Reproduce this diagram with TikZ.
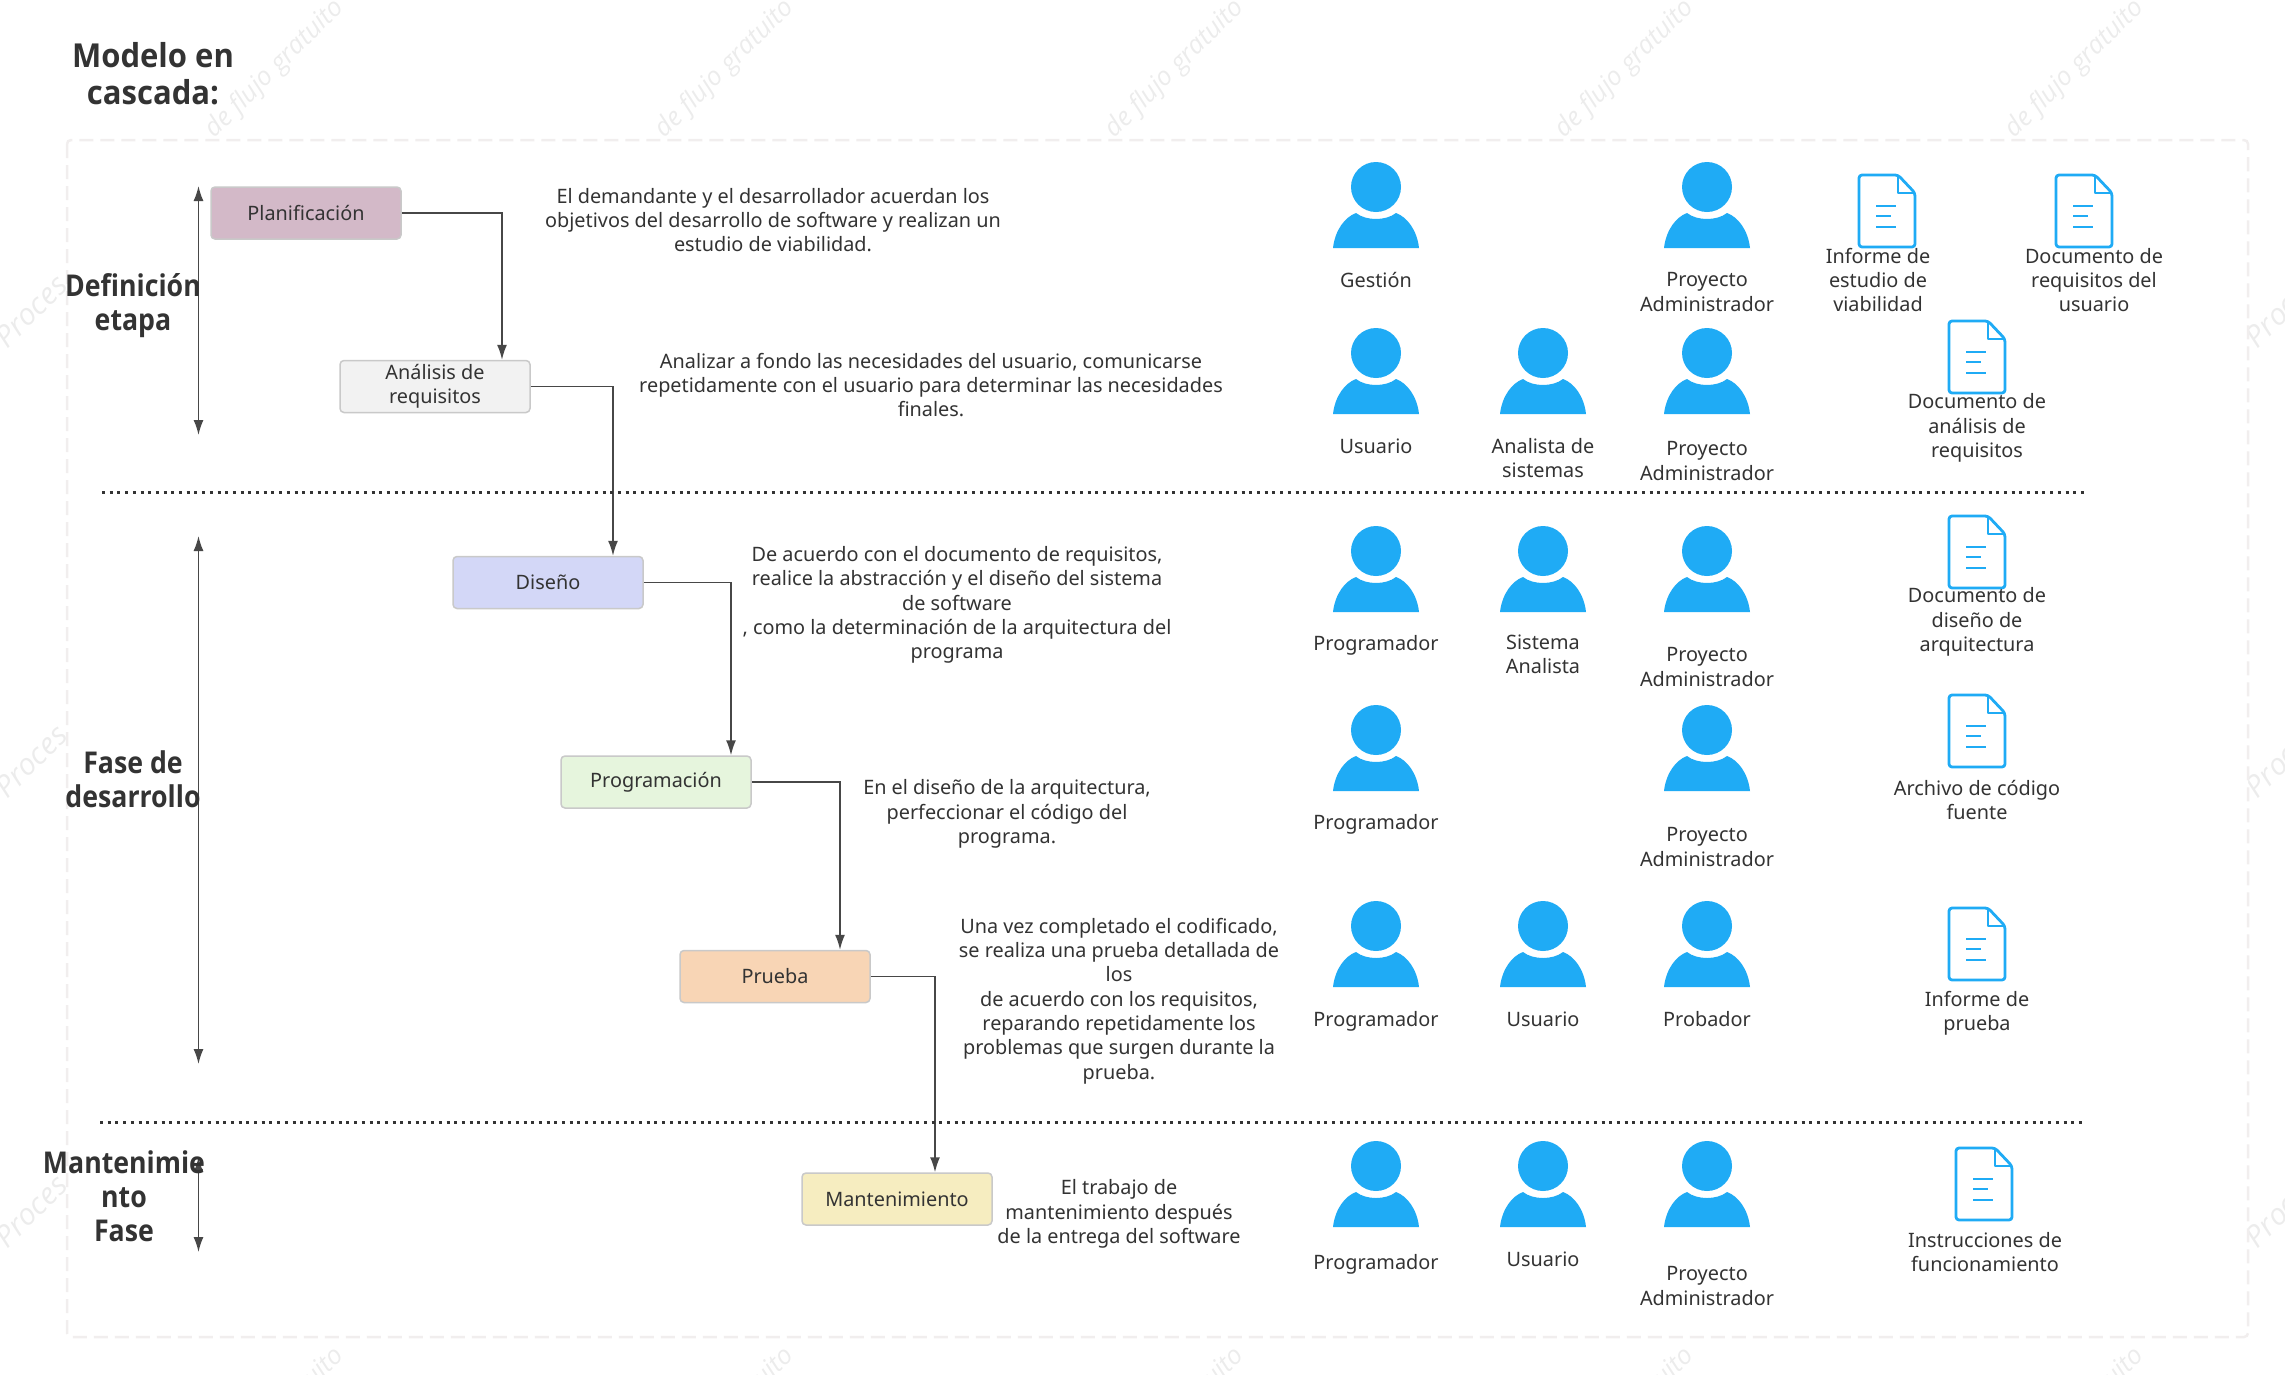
\documentclass[tikz,border=0pt]{standalone}
\usepackage{fontspec}
\setmainfont{Noto Sans}
\newfontfamily\headfont[FakeStretch=0.89]{Open Sans}
\newfontfamily\titlefont[FakeStretch=0.94]{Open Sans}
\newfontfamily\wmfont{Open Sans}
\usetikzlibrary{positioning}
\usetikzlibrary{arrows.meta}
\definecolor{wmgray}{HTML}{ECECEC}
\definecolor{framegray}{HTML}{F1EEEE}
\definecolor{ink}{HTML}{333333}
\definecolor{iconblue}{HTML}{1FABF5}
\definecolor{edgegray}{HTML}{C9C9C9}
\tikzset{
  stagebox/.style={draw=edgegray, line width=1.5pt, rounded corners=4pt, minimum width=190pt, minimum height=52pt, inner sep=0pt, align=center, text=ink, font=\fontsize{19.85}{24.3}\selectfont},
  txt/.style={align=center, inner sep=0pt, text=ink, font=\fontsize{19.85}{24.3}\selectfont},
  head/.style={align=center, inner sep=0pt, text=ink, font=\headfont\bfseries\fontsize{30}{34}\selectfont},
  wm/.style={rotate=45, inner sep=0pt, text=wmgray, font=\wmfont\itshape\fontsize{26}{30}\selectfont},
  conn/.style={-{Latex[length=15pt,width=10pt]}, line width=1.5pt, draw=ink!90},
  sep/.style={line width=3pt, draw=ink, dash pattern=on 3pt off 4.7pt},
  person/.pic={
    \fill[iconblue] (0,0) circle (25);
    \fill[iconblue] (-43,61) .. controls (-41,43) and (-31,30) .. (-20,26)
      .. controls (-10,34) and (10,34) .. (20,26)
      .. controls (31,30) and (41,43) .. (43,61) -- cycle;
  },
  doc/.pic={
    \draw[iconblue, line width=2.8pt, line join=round, rounded corners=3pt] (0,0) -- (39,0) -- (56,18) -- (56,72) -- (0,72) -- cycle;
    \draw[iconblue, line width=2.8pt, line join=round] (39,0) -- (39,18) -- (56,18);
    \draw[iconblue, line width=2.8pt] (17,31) -- (37,31);
    \draw[iconblue, line width=2.8pt] (17,41) -- (32,41);
    \draw[iconblue, line width=2.8pt] (17,52) -- (37,52);
  }
}
\begin{document}
\begin{tikzpicture}[x=1pt,y=-1pt]
\useasboundingbox (0,0) rectangle (2285,1374);
% watermark
\begin{scope}
\clip (0,0) rectangle (2285,1374);
\node[wm] (wma) at (275,69) {de flujo gratuito};
\node[wm] (wmb) at (725,69) {de flujo gratuito};
\node[wm] (wmc) at (1175,69) {de flujo gratuito};
\node[wm] (wmd) at (1625,69) {de flujo gratuito};
\node[wm] (wme) at (2075,69) {de flujo gratuito};
\node[wm] (wmf) at (275,1417) {de flujo gratuito};
\node[wm] (wmg) at (725,1417) {de flujo gratuito};
\node[wm] (wmh) at (1175,1417) {de flujo gratuito};
\node[wm] (wmi) at (1625,1417) {de flujo gratuito};
\node[wm] (wmj) at (2075,1417) {de flujo gratuito};
\node[wm, font=\wmfont\itshape\fontsize{30}{30}\selectfont, anchor=west] (wmk) at (0,342) {Proces};
\node[wm, font=\wmfont\itshape\fontsize{30}{30}\selectfont, anchor=west] (wml) at (0,792) {Proces};
\node[wm, font=\wmfont\itshape\fontsize{30}{30}\selectfont, anchor=west] (wmm) at (0,1242) {Proces};
\node[wm, font=\wmfont\itshape\fontsize{30}{30}\selectfont, anchor=west] (wmn) at (2250,342) {Proces};
\node[wm, font=\wmfont\itshape\fontsize{30}{30}\selectfont, anchor=west] (wmo) at (2250,792) {Proces};
\node[wm, font=\wmfont\itshape\fontsize{30}{30}\selectfont, anchor=west] (wmp) at (2250,1242) {Proces};
\end{scope}
% frame
\draw[framegray, fill=white, line width=2.5pt, dash pattern=on 14pt off 7pt, rounded corners=4pt] (67,140) rectangle (2248,1337);
% stages
\node[stagebox, fill={rgb,255:red,211;green,185;blue,200}] (plan) at (306,213) {Planificación};
\node[
  stagebox,
  fill={rgb,255:red,242;green,242;blue,242},
  below=120pt of plan.south west,
  anchor=north west,
  xshift=129pt] (ana) {Análisis de\\requisitos};
\node[
  stagebox,
  fill={rgb,255:red,211;green,215;blue,247},
  below=142.5pt of ana.south west,
  anchor=north west,
  xshift=113pt] (dis) {Diseño};
\node[
  stagebox,
  fill={rgb,255:red,230;green,245;blue,221},
  below=146pt of dis.south west,
  anchor=north west,
  xshift=108pt] (prog) {Programación};
\node[
  stagebox,
  fill={rgb,255:red,248;green,213;blue,181},
  below=141pt of prog.south west,
  anchor=north west,
  xshift=119pt] (test) {Prueba};
\node[
  stagebox,
  fill={rgb,255:red,246;green,237;blue,192},
  below=169pt of test.south west,
  anchor=north west,
  xshift=122pt] (mant) {Mantenimiento};
\draw[conn] (plan.east) -| ([xshift=67pt]ana.north);
\draw[conn] (ana.east) -| ([xshift=65pt]dis.north);
\draw[conn] (dis.east) -| ([xshift=75pt]prog.north);
\draw[conn] (prog.east) -| ([xshift=65pt]test.north);
\draw[conn] (test.east) -| ([xshift=38pt]mant.north);
% separators
\coordinate (sepa) at (102,492);
\coordinate (sepb) at (2085,492);
\coordinate (sepc) at (100,1122);
\coordinate (sepd) at (2084,1122);
\draw[sep] (sepa) -- (sepb);
\draw[sep] (sepc) -- (sepd);
% phase arrows
\coordinate (arra) at (198.5,186);
\coordinate (arrb) at (198.5,435);
\coordinate (arrc) at (198.5,536);
\coordinate (arrd) at (198.5,1064);
\coordinate (arre) at (198.5,1157);
\coordinate (arrf) at (198.5,1252);
\draw[conn, {Latex[length=15pt,width=10pt]}-{Latex[length=15pt,width=10pt]}] (arra) -- (arrb);
\draw[conn, {Latex[length=15pt,width=10pt]}-{Latex[length=15pt,width=10pt]}] (arrc) -- (arrd);
\draw[conn, {Latex[length=15pt,width=10pt]}-{Latex[length=15pt,width=10pt]}] (arre) -- (arrf);
% headings
\node[head, font=\titlefont\bfseries\fontsize{33}{37}\selectfont] (title) at (153,74) {Modelo en\\cascada:};
\node[head] (defi) at (133,306) {Definición\\etapa};
\node[head] (fase) at (133,779) {Fase de\\desarrollo};
\node[head] (mtto) at (124,1196) {Mantenimie\\nto\\Fase};
% descriptions
\node[txt] (dplan) at (773,220) {El demandante y el desarrollador acuerdan los\\objetivos del desarrollo de software y realizan un\\estudio de viabilidad.};
\node[txt] (dana) at (931,385) {Analizar a fondo las necesidades del usuario, comunicarse\\repetidamente con el usuario para determinar las necesidades\\finales.};
\node[txt] (ddis) at (957,605) {De acuerdo con el documento de requisitos,\\realice la abstracción y el diseño del sistema\\de software\\, como la determinación de la arquitectura del\\programa};
\node[txt] (dprog) at (1007,814) {En el diseño de la arquitectura,\\perfeccionar el código del\\programa.};
\node[txt] (dtest) at (1119,1001) {Una vez completado el codificado,\\se realiza una prueba detallada de\\los\\de acuerdo con los requisitos,\\reparando repetidamente los\\problemas que surgen durante la\\prueba.};
\node[txt] (dmant) at (1119,1214) {El trabajo de\\mantenimiento después\\de la entrega del software};
% row 1
\pic (pa) at (1376,187) {person};
\node[txt] (la) at (1376,280) {Gestión};
\pic (pb) at (1707,187) {person};
\node[txt] (lb) at (1707,292) {Proyecto\\Administrador};
\pic (da) at (1859,175) {doc};
\node[txt] (lc) at (1878,280) {Informe de\\estudio de\\viabilidad};
\pic (db) at (2056,175) {doc};
\node[txt] (ld) at (2094,280) {Documento de\\requisitos del\\usuario};
% row 2
\pic (pc) at (1376,353) {person};
\node[txt] (le) at (1376,446) {Usuario};
\pic (pd) at (1543,353) {person};
\node[txt] (lf) at (1543,458) {Analista de\\sistemas};
\pic (pe) at (1707,353) {person};
\node[txt] (lg) at (1707,461) {Proyecto\\Administrador};
\pic (dc) at (1949,321) {doc};
\node[txt] (lh) at (1977,428) {Documento de\\análisis de\\requisitos};
% row 3
\pic (pf) at (1376,551) {person};
\node[txt] (li) at (1376,645) {Programador};
\pic (pg) at (1543,551) {person};
\node[txt] (lj) at (1543,654) {Sistema\\Analista};
\pic (ph) at (1707,551) {person};
\node[txt] (lk) at (1707,667) {Proyecto\\Administrador};
\pic (dd) at (1949,516) {doc};
\node[txt] (ll) at (1977,622) {Documento de\\diseño de\\arquitectura};
% row 4
\pic (pi) at (1376,730) {person};
\node[txt] (lm) at (1376,824) {Programador};
\pic (pj) at (1707,730) {person};
\node[txt] (ln) at (1707,847) {Proyecto\\Administrador};
\pic (de) at (1949,695) {doc};
\node[txt] (lo) at (1977,800) {Archivo de código\\fuente};
% row 5
\pic (pk) at (1376,926) {person};
\node[txt] (lp) at (1376,1021) {Programador};
\pic (pl) at (1543,926) {person};
\node[txt] (lq) at (1543,1019) {Usuario};
\pic (pm) at (1707,926) {person};
\node[txt] (lr) at (1707,1019) {Probador};
\pic (df) at (1949,908) {doc};
\node[txt] (ls) at (1977,1013) {Informe de\\prueba};
% row 6
\pic (pn) at (1376,1166) {person};
\node[txt] (lt) at (1376,1264) {Programador};
\pic (po) at (1543,1166) {person};
\node[txt] (lu) at (1543,1259) {Usuario};
\pic (pp) at (1707,1166) {person};
\node[txt] (lv) at (1707,1286) {Proyecto\\Administrador};
\pic (dg) at (1956,1148) {doc};
\node[txt] (lw) at (1985,1252) {Instrucciones de\\funcionamiento};
\end{tikzpicture}
\end{document}
